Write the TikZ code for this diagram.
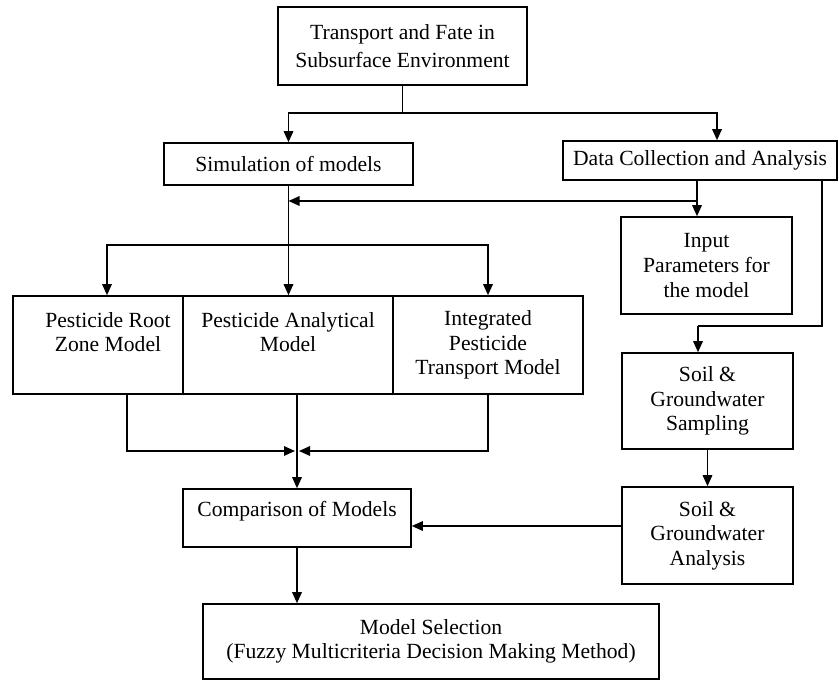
\documentclass[tikz,border=0pt]{standalone}
\usepackage{fontspec}
\setmainfont{Liberation Serif}
\usetikzlibrary{arrows.meta, positioning}

\begin{document}
\begin{tikzpicture}[
    box/.style={draw, line width=0.9pt, inner sep=0pt, align=center,
        font=\fontsize{12.3}{14}\selectfont},
    txt/.style={inner sep=0pt, align=center, font=\fontsize{12.3}{13.5}\selectfont},
    line/.style={line width=0.9pt},
    arr/.style={line width=0.9pt, -{Triangle[length=2.2mm, width=1.9mm]}}
]
    \useasboundingbox (0,0) rectangle (16.78,13.6);

    % Define nodes
    \node[box, minimum width=4.98cm, minimum height=1.56cm, font=\fontsize{12.3}{16}\selectfont] (top) at (8.05,12.68) {Transport and Fate in\\Subsurface Environment};

    \node[box, minimum width=4.98cm, minimum height=0.84cm] (sim) at (5.77,10.32) {Simulation of models};
    \node[box, minimum width=5.48cm, minimum height=0.78cm] (data) at (14.0,10.39) {Data Collection and Analysis};

    \node[box, minimum width=3.42cm, minimum height=1.94cm] (input) at (14.13,8.29) {Input\\Parameters for\\the model};

    \node[box, minimum width=3.40cm, minimum height=1.96cm] (przm) at (1.96,6.70) {};
    \node[box, minimum width=4.20cm, minimum height=1.96cm] (pam) at (5.76,6.70) {};
    \node[box, minimum width=3.80cm, minimum height=1.96cm] (iptm) at (9.76,6.70) {Integrated\\Pesticide\\Transport Model};

    \node[txt, below=0.34cm of przm.north, xshift=2mm] (przm-txt) {Pesticide Root\\Zone Model};
    \node[txt, below=0.34cm of pam.north] (pam-txt) {Pesticide Analytical\\Model};

    \node[box, minimum width=3.42cm, minimum height=1.92cm] (samp) at (14.15,5.58) {Soil \&\\Groundwater\\Sampling};
    \node[box, minimum width=3.42cm, minimum height=1.94cm] (anal) at (14.15,2.89) {Soil \&\\Groundwater\\Analysis};

    \node[box, minimum width=4.56cm, minimum height=1.16cm] (comp) at (5.94,3.24) {};
    \node[txt, below=0.26cm of comp.north] (comp-txt) {Comparison of Models};

    \node[box, minimum width=9.12cm, minimum height=1.50cm] (sel) at (8.62,0.77) {Model Selection\\(Fuzzy Multicriteria Decision Making Method)};

    % Junction points
    \coordinate (j1) at (8.05,11.34);
    \coordinate (j2) at (13.94,9.58);
    \coordinate (j3) at (5.77,8.70);
    \coordinate (j4) at (16.44,7.08);
    \coordinate (j5) at (13.96,7.08);
    \coordinate (j7) at (5.94,4.58);

    % Draw edges
    \draw[line] (top) -- (j1);
    \draw[arr] (j1) -| (sim);
    \draw[arr] (j1) -| ([xshift=3.4mm]data.north);

    \draw[arr] ([xshift=-0.6mm]data.south) -- ([xshift=-0.6mm]data.south |- input.north);
    \draw[arr] (j2) -- (j2 -| sim);

    \draw[arr] (sim) -- (sim |- pam.north);
    \draw[arr] (j3) -| ([xshift=1.8mm]przm.north);
    \draw[arr] (j3) -| (iptm);

    \draw[line] (data.south -| j4) -- (j4) -- (j5);
    \draw[arr] (j5) -- (j5 |- samp.north);
    \draw[arr] (samp) -- (anal);
    \draw[arr] ([yshift=1.9mm]anal.west) -- ([yshift=1.9mm]anal.west -| comp.east);

    \draw[arr] ([xshift=5.8mm]przm.south) |- ([xshift=-0.4mm]j7);
    \draw[arr] (iptm) |- ([xshift=0.4mm]j7);
    \draw[arr] (comp.north |- pam.south) -- (comp);

    \draw[arr] (comp) -- (comp |- sel.north);
\end{tikzpicture}
\end{document}
